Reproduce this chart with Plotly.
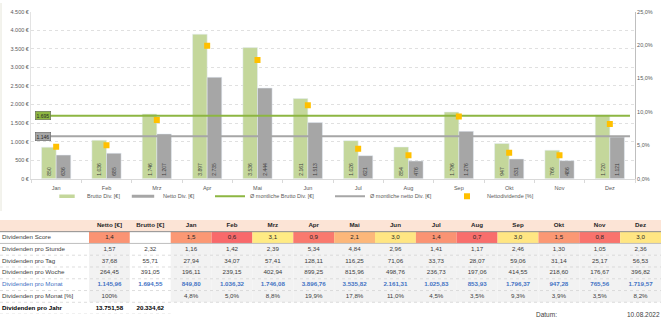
import plotly.graph_objects as go

W, H = 661, 322

months = ["Jan", "Feb", "Mrz", "Apr", "Mai", "Jun", "Jul", "Aug", "Sep", "Okt", "Nov", "Dez"]
brutto_monat = [849.80, 1036.32, 1746.08, 3896.76, 3535.82, 2161.31, 1025.83, 853.93, 1796.37, 947.28, 765.56, 1719.57]
netto_monat = [636, 685, 1207, 2735, 2444, 1513, 621, 476, 1276, 531, 486, 1121]
netto_pct = [0.048, 0.050, 0.088, 0.199, 0.178, 0.110, 0.045, 0.035, 0.093, 0.039, 0.035, 0.082]
avg_brutto = 1694.55
avg_netto = 1145.96

# table data
row_labels = ["Dividenden Score", "Dividenden pro Stunde", "Dividenden pro Tag", "Dividenden pro Woche",
              "Dividenden pro Monat", "Dividenden pro Monat [%]", "Dividenden pro Jahr"]
col_headers = ["Netto [€]", "Brutto [€]"] + months
score = [1.4, None, 1.5, 0.6, 3.1, 0.9, 2.1, 3.0, 1.4, 0.7, 3.0, 1.5, 0.8, 3.0]
pro_stunde = ["1,57", "2,32", "1,16", "1,42", "2,39", "5,34", "4,84", "2,96", "1,41", "1,17", "2,46", "1,30", "1,05", "2,36"]
pro_tag = ["37,68", "55,71", "27,94", "34,07", "57,41", "128,11", "116,25", "71,06", "33,73", "28,07", "59,06", "31,14", "25,17", "56,53"]
pro_woche = ["264,45", "391,05", "196,11", "239,15", "402,94", "899,25", "815,96", "498,76", "236,73", "197,06", "414,55", "218,60", "176,67", "396,82"]
pro_monat = ["1.145,96", "1.694,55", "849,80", "1.036,32", "1.746,08", "3.896,76", "3.535,82", "2.161,31",
             "1.025,83", "853,93", "1.796,37", "947,28", "765,56", "1.719,57"]
pro_monat_pct = ["100%", "", "4,8%", "5,0%", "8,8%", "19,9%", "17,8%", "11,0%", "4,5%", "3,5%", "9,3%", "3,9%", "3,5%", "8,2%"]
pro_jahr = ["13.751,58", "20.334,62"] + [""] * 12
datum = "10.08.2022"

GREEN = "#C4D79B"
GRAY = "#A6A6A6"
LGREEN = "#8DB642"
LGRAY = "#A6A6A6"
YEL = "#FFC000"
TXT = "#595959"
FONT = "Liberation Sans"
TFS = 6.2  # table font size

def py(p):
    return 1 - p / H

def px(p):
    return p / W

xs = list(range(len(months)))

fig = go.Figure()
fig.add_trace(go.Bar(x=xs, y=brutto_monat, name="Brutto Div. [€]", marker_color=GREEN, showlegend=False,
                     texttemplate="%{y:,.0f}", textposition="inside", insidetextanchor="start",
                     textangle=-90, textfont=dict(size=5, color="#404040", family=FONT),
                     constraintext="none"))
fig.add_trace(go.Bar(x=xs, y=netto_monat, name="Netto Div. [€]", marker_color=GRAY, showlegend=False,
                     texttemplate="%{y:,.0f}", textposition="inside", insidetextanchor="start",
                     textangle=-90, textfont=dict(size=5, color="#404040", family=FONT),
                     constraintext="none"))
# legend stand-ins for the bars (thin bar-style keys)
fig.add_trace(go.Scatter(x=[None], y=[None], mode="markers", name="Brutto Div. [€]", legend="legend",
                         marker=dict(symbol="line-ew", size=11, line=dict(width=3.5, color=GREEN))))
fig.add_trace(go.Scatter(x=[None], y=[None], mode="markers", name="Netto Div. [€]", legend="legend2",
                         marker=dict(symbol="line-ew", size=17, line=dict(width=3, color=GRAY))))
ext = [xs[0] - 0.4, xs[-1] + 0.4]
fig.add_trace(go.Scatter(x=ext, y=[avg_brutto] * 2, mode="lines", name="Ø montliche Brutto Div. [€]",
                         legend="legend3", line=dict(color=LGREEN, width=2)))
fig.add_trace(go.Scatter(x=ext, y=[avg_netto] * 2, mode="lines", name="Ø montliche netto Div. [€]",
                         legend="legend4", line=dict(color=LGRAY, width=2)))
fig.add_trace(go.Scatter(x=xs, y=netto_pct, mode="markers", name="Nettodividende [%]", yaxis="y2",
                         legend="legend5", marker=dict(symbol="square", size=6, color=YEL)))

for val, col in [(avg_brutto, LGREEN), (avg_netto, LGRAY)]:
    fig.add_annotation(x=xs[0] - 0.26, y=val, xref="x", yref="y", text=f"{val:,.0f}".replace(",", "."),
                       showarrow=False, bgcolor=col, bordercolor="#595959", borderwidth=0.5, borderpad=1,
                       font=dict(size=5, color="#262626", family=FONT))

# ---------- table on its own axes (x in px units, y in row index) ----------
def score_color(s):
    if s is None:
        return "#FFFFFF"
    vals = [v for v in score if v is not None]
    lo, hi = min(vals), max(vals)
    t = (s - lo) / (hi - lo)
    c0, c1 = (0xF8, 0x69, 0x6B), (0xFF, 0xEB, 0x84)
    r, g, b = [round(a + (bb - a) * t) for a, bb in zip(c0, c1)]
    return f"rgb({r},{g},{b})"

ncol = len(col_headers)
colw = [89] + [(W - 89) / ncol] * ncol
edges = [0]
for w in colw:
    edges.append(edges[-1] + w)
centers = [(edges[i] + edges[i + 1]) / 2 for i in range(len(colw))]
nrows = 1 + len(row_labels)

shapes = []
def cell(c, r, color):
    shapes.append(dict(type="rect", xref="x3", yref="y3", x0=edges[c], x1=edges[c + 1],
                       y0=r - 0.5, y1=r + 0.5, fillcolor=color, line=dict(width=0), layer="below"))

shapes.append(dict(type="rect", xref="x3", yref="y3", x0=edges[0], x1=edges[-1], y0=-0.5, y1=0.5,
                   fillcolor="#FCE4D6", line=dict(width=0), layer="below"))
for j in range(ncol):
    cell(j + 1, 1, score_color(score[j]))
    for r in range(2, 7):
        empty = (r == 6 and pro_monat_pct[j] == "")
        if j != 1 and not empty:
            cell(j + 1, r, "#F2F2F2")

shapes.append(dict(type="line", xref="x3", yref="y3", x0=edges[0], x1=edges[-1], y0=0.5, y1=0.5,
                   line=dict(color="#8C8C8C", width=1)))
shapes.append(dict(type="line", xref="x3", yref="y3", x0=edges[0], x1=edges[-1], y0=1.5, y1=1.5,
                   line=dict(color="#BFBFBF", width=1)))
for r in range(2, nrows):
    shapes.append(dict(type="line", xref="x3", yref="y3", x0=edges[0],
                       x1=edges[3] if r == nrows - 1 else edges[-1], y0=r + 0.5, y1=r + 0.5,
                       line=dict(color="#CFCFCF", width=0.7, dash="dot")))
shapes.append(dict(type="line", xref="paper", yref="paper", x0=px(1), x1=px(1), y0=py(0), y1=py(212),
                   line=dict(color="#E6E6DA", width=1)))

fig.add_trace(go.Scatter(x=centers[1:], y=[0] * ncol, mode="text", xaxis="x3", yaxis="y3",
                         text=[f"<b>{h}</b>" for h in col_headers], showlegend=False, hoverinfo="skip",
                         textfont=dict(size=TFS, color="#262626", family=FONT)))
lab_txt = [f"<b>{l}</b>" if i == len(row_labels) - 1 else l for i, l in enumerate(row_labels)]
lab_col = ["#404040", "#404040", "#404040", "#404040", "#4472C4", "#404040", "#000000"]
fig.add_trace(go.Scatter(x=[edges[0] + 2] * len(row_labels), y=list(range(1, nrows)), mode="text",
                         xaxis="x3", yaxis="y3", text=lab_txt, textposition="middle right",
                         showlegend=False, hoverinfo="skip",
                         textfont=dict(size=TFS, color=lab_col, family=FONT)))
rows_data = [
    (["" if s is None else f"{s:.1f}".replace(".", ",") for s in score], "#262626", False),
    (pro_stunde, "#404040", False),
    (pro_tag, "#404040", False),
    (pro_woche, "#404040", False),
    (pro_monat, "#4472C4", True),
    (pro_monat_pct, "#404040", False),
    (pro_jahr, "#000000", True),
]
for r, (vals, colr, bold) in enumerate(rows_data, start=1):
    fig.add_trace(go.Scatter(x=centers[1:], y=[r] * ncol, mode="text", xaxis="x3", yaxis="y3",
                             text=[f"<b>{v}</b>" if (bold and v) else v for v in vals],
                             showlegend=False, hoverinfo="skip",
                             textfont=dict(size=TFS, color=colr, family=FONT)))

fig.add_annotation(x=px(558), y=0, xref="paper", yref="paper", text="Datum:", showarrow=False,
                   xanchor="right", yanchor="bottom", borderpad=0,
                   font=dict(size=6.5, color="#404040", family=FONT))
fig.add_annotation(x=px(661), y=0, xref="paper", yref="paper", text=datum, showarrow=False,
                   xanchor="right", yanchor="bottom", borderpad=0,
                   font=dict(size=6.5, color="#404040", family=FONT))

def leg(xpix):
    return dict(orientation="h", x=px(xpix), y=py(197), xanchor="left", yanchor="middle",
                font=dict(size=5.5, color=TXT, family=FONT), itemwidth=30,
                bgcolor="rgba(0,0,0,0)", itemsizing="trace")

fig.update_layout(
    width=W, height=H, margin=dict(l=0, r=0, t=0, b=0),
    paper_bgcolor="white", plot_bgcolor="rgba(0,0,0,0)",
    separators=",.",
    barmode="group", bargap=0.42, bargroupgap=0,
    font=dict(family=FONT, size=6, color=TXT),
    shapes=shapes,
    showlegend=True,
    legend=leg(47), legend2=leg(123), legend3=leg(210), legend4=leg(330), legend5=leg(447),
    xaxis=dict(domain=[px(31), px(635)], range=[-0.5, 11.5], tickmode="array", tickvals=xs,
               ticktext=months, ticks="", showgrid=False, zeroline=False, showline=True,
               linecolor="#D9D9D9", tickfont=dict(size=5.5, color=TXT), ticklabelstandoff=4,
               minor=dict(tick0=-0.5, dtick=1, ticks="outside", ticklen=3, tickcolor="#D9D9D9",
                          showgrid=False)),
    yaxis=dict(domain=[py(179), py(9)], range=[0, 4500], dtick=500, tickformat=",d", ticksuffix=" €",
               showgrid=True, gridcolor="#E0E0E0", griddash="dot", zeroline=False, showline=True,
               linecolor="#E3E3E3", tickfont=dict(size=5.5, color=TXT)),
    yaxis2=dict(overlaying="y", side="right", range=[0, 0.25], dtick=0.05, tickformat=".1%",
                showgrid=False, zeroline=False, showline=True, linecolor="#BFBFBF",
                tickfont=dict(size=5.5, color=TXT)),
    xaxis3=dict(domain=[0, 1], range=[0, W], anchor="y3", visible=False, fixedrange=True),
    yaxis3=dict(domain=[py(221 + nrows * 12), py(221)], range=[nrows - 0.5, -0.5], anchor="x3",
                visible=False, fixedrange=True),
)

fig.write_html("out.html")
